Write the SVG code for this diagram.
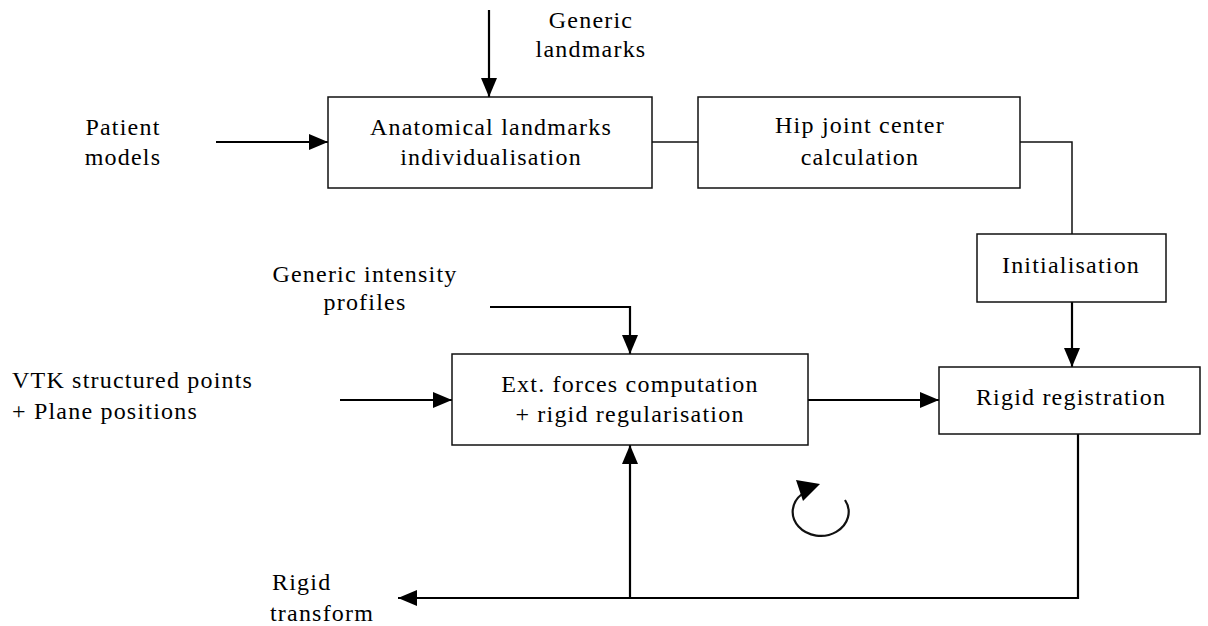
<svg xmlns="http://www.w3.org/2000/svg" width="1208" height="626" viewBox="0 0 1208 626">
  <style>
    .box { fill: #fff; stroke: #111; stroke-width: 1.5; }
    .thin { fill: none; stroke: #111; stroke-width: 1.5; }
    .flow { fill: none; stroke: #000; stroke-width: 2.2; }
    .arrow { fill: none; stroke: #000; stroke-width: 2.2; marker-end: url(#head); }
    text { font-family: "Liberation Serif", serif; font-size: 24px; letter-spacing: 1.2px; fill: #000; }
    .c { text-anchor: middle; }
  </style>
  <defs>
    <marker id="head" markerUnits="userSpaceOnUse" markerWidth="20" markerHeight="18" refX="19" refY="8" orient="auto">
      <path d="M0,0 L19,8 L0,16 z" fill="#000"/>
    </marker>
  </defs>

  <rect width="1208" height="626" fill="#fff"/>

  <!-- connectors -->
  <g id="connectors">
    <line class="arrow" x1="489" y1="10" x2="489" y2="97"/>
    <line class="arrow" x1="216" y1="142" x2="328" y2="142"/>
    <line class="thin" x1="652" y1="142" x2="698" y2="142"/>
    <polyline class="thin" points="1020,142 1072,142 1072,234"/>
    <line class="arrow" x1="1072" y1="302" x2="1072" y2="367"/>
    <polyline class="arrow" points="490,307 630,307 630,354"/>
    <line class="arrow" x1="340" y1="400" x2="452" y2="400"/>
    <line class="arrow" x1="808" y1="400" x2="939" y2="400"/>
    <polyline class="flow" points="1078,434 1078,598 630,598"/>
    <line class="arrow" x1="630" y1="598" x2="398" y2="598"/>
    <line class="arrow" x1="630" y1="598" x2="630" y2="445"/>
    <!-- iteration loop symbol -->
    <path class="thin" style="stroke-width:2.2" d="M845,500 A28 24 0 1 1 802,494"/>
    <polygon points="796,480 820,484 803,501" fill="#000"/>
  </g>

  <!-- nodes -->
  <g id="anatomical">
    <rect class="box" x="328" y="97" width="324" height="91"/>
    <text class="c" x="491" y="135">Anatomical landmarks</text>
    <text class="c" x="491" y="165">individualisation</text>
  </g>
  <g id="hip">
    <rect class="box" x="698" y="97" width="322" height="91"/>
    <text class="c" x="860" y="133">Hip joint center</text>
    <text class="c" x="860" y="165">calculation</text>
  </g>
  <g id="init">
    <rect class="box" x="977" y="234" width="189" height="68"/>
    <text class="c" x="1071" y="273">Initialisation</text>
  </g>
  <g id="extforces">
    <rect class="box" x="452" y="354" width="356" height="91"/>
    <text class="c" x="630" y="392">Ext. forces computation</text>
    <text class="c" x="630" y="422">+ rigid regularisation</text>
  </g>
  <g id="rigid">
    <rect class="box" x="939" y="367" width="261" height="67"/>
    <text class="c" x="1071" y="405">Rigid registration</text>
  </g>

  <!-- input / output labels -->
  <g id="generic-landmarks">
    <text class="c" x="591" y="28">Generic</text>
    <text class="c" x="591" y="57">landmarks</text>
  </g>
  <g id="patient-models">
    <text class="c" x="123" y="135">Patient</text>
    <text class="c" x="123" y="165">models</text>
  </g>
  <g id="generic-profiles">
    <text class="c" x="365" y="282">Generic intensity</text>
    <text class="c" x="365" y="310">profiles</text>
  </g>
  <g id="vtk-input">
    <text x="12" y="388">VTK structured points</text>
    <text x="12" y="419">+ Plane positions</text>
  </g>
  <g id="rigid-transform">
    <text x="272" y="590">Rigid</text>
    <text x="270" y="621">transform</text>
  </g>
</svg>
